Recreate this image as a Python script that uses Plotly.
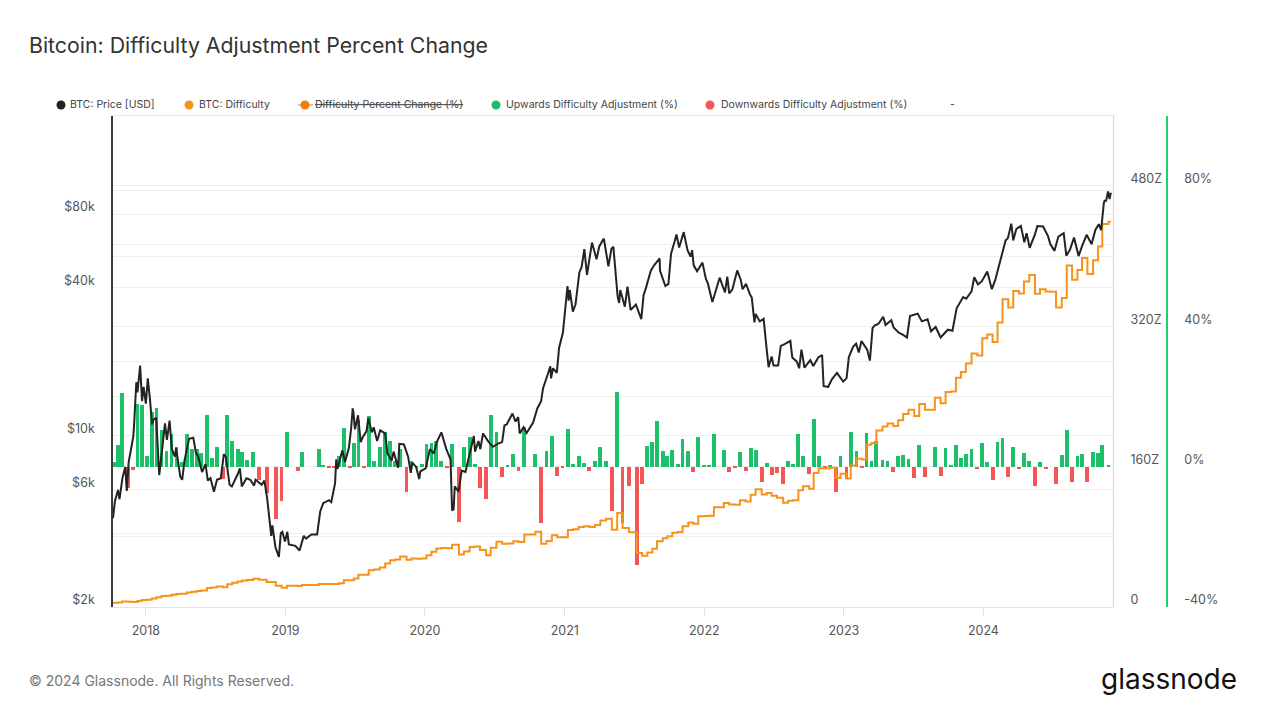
import plotly.graph_objects as go

# ---------------- data ----------------
# Difficulty adjustments: date, percent change, difficulty (Z hashes)
adj_dates_2017 = ["2017-10-11", "2017-10-20", "2017-10-31", "2017-11-16", "2017-11-29", "2017-12-10", "2017-12-21"]
adj_pct_2017 = [1.4, 6.2, 21.0, -6.0, -1.0, 17.9, 17.6]
difficulty_2017 = [4.9, 5.2, 6.3, 5.9, 5.8, 6.9, 8.1]

adj_dates_2018 = ["2018-01-03", "2018-01-16", "2018-01-29", "2018-02-11", "2018-02-24", "2018-03-09", "2018-03-22",
                  "2018-04-04", "2018-04-18", "2018-05-01", "2018-05-14", "2018-05-26", "2018-06-10", "2018-06-22",
                  "2018-07-05", "2018-07-22", "2018-08-02", "2018-08-15", "2018-08-29", "2018-09-10", "2018-09-23",
                  "2018-10-09", "2018-10-24", "2018-11-13", "2018-12-07", "2018-12-22"]
adj_pct_2018 = [3.0, 15.5, 16.6, 10.5, 4.5, 9.2, 5.7, 1.4, 9.2, 4.9, 4.9, 3.8, 14.6, 2.6, 5.5, -3.6, 14.6, 7.3, 4.9,
                4.2, 2.0, 4.2, -3.8, -7.6, -15.0, -9.7]
difficulty_2018 = [8.3, 9.6, 11.2, 12.4, 12.9, 14.1, 14.9, 15.1, 16.5, 17.3, 18.2, 18.9, 21.6, 22.2, 23.4, 22.6, 25.8,
                   27.7, 29.1, 30.3, 30.9, 32.2, 31.0, 28.6, 24.3, 22.0]

adj_dates_2019 = ["2019-01-05", "2019-01-19", "2019-02-02", "2019-02-13", "2019-02-28", "2019-03-14", "2019-03-29",
                  "2019-04-10", "2019-04-25", "2019-05-07", "2019-05-21", "2019-06-03", "2019-06-19", "2019-06-29",
                  "2019-07-11", "2019-07-25", "2019-08-07", "2019-08-21", "2019-09-05", "2019-09-19", "2019-10-02",
                  "2019-10-15", "2019-10-28", "2019-11-14", "2019-11-27", "2019-12-10", "2019-12-24"]
adj_pct_2019 = [10.0, 0.0, -1.1, 4.2, 0.0, 0.0, 4.9, 0.2, -0.5, -0.3, 3.1, 10.9, -0.3, 6.7, 13.3, -0.3, 14.3, 1.6,
                5.7, 10.0, 7.3, 1.6, 4.9, -7.1, 1.6, -0.5, 0.7]
difficulty_2019 = [24.2, 24.2, 23.9, 25.0, 25.0, 25.0, 26.2, 26.3, 26.2, 26.1, 27.0, 30.5, 30.4, 32.5, 36.8, 36.7,
                   42.0, 42.7, 45.1, 49.6, 53.2, 54.1, 57.5, 54.0, 55.3, 55.0, 55.4]

adj_dates_2020 = ["2020-01-05", "2020-01-18", "2020-01-31", "2020-02-13", "2020-02-27", "2020-03-12", "2020-03-30",
                  "2020-04-12", "2020-04-27", "2020-05-10", "2020-05-24", "2020-06-09", "2020-06-21", "2020-07-06",
                  "2020-07-21", "2020-08-04", "2020-08-19", "2020-09-02", "2020-09-17", "2020-10-02", "2020-10-16",
                  "2020-10-31", "2020-11-14", "2020-11-28", "2020-12-12", "2020-12-26"]
adj_pct_2020 = [6.4, 6.7, 7.3, 1.6, -0.3, 6.4, -15.9, 5.7, 8.4, 0.7, -6.0, -9.3, 14.6, 10.0, -3.0, 0.5, 3.6, -1.1,
                11.4, 0.0, 3.6, -16.0, 4.6, 8.6, -2.7, -0.3]
difficulty_2020 = [59.0, 63.0, 66.8, 67.3, 67.1, 71.1, 59.8, 63.2, 68.5, 69.0, 64.9, 58.9, 67.5, 74.3, 72.1, 72.4,
                   75.0, 74.2, 82.7, 82.7, 85.7, 72.0, 75.3, 81.8, 79.6, 79.4]

adj_dates_2021 = ["2021-01-09", "2021-01-23", "2021-02-06", "2021-02-20", "2021-03-06", "2021-03-21", "2021-04-04",
                  "2021-04-19", "2021-05-04", "2021-05-18", "2021-06-01", "2021-06-18", "2021-07-08", "2021-07-22",
                  "2021-08-05", "2021-08-18", "2021-08-30", "2021-09-14", "2021-09-26", "2021-10-09", "2021-10-23",
                  "2021-11-05", "2021-11-20", "2021-12-03", "2021-12-16", "2021-12-31"]
adj_pct_2021 = [10.7, 0.8, 2.9, 1.1, -1.1, 1.7, 5.5, 1.7, -12.6, 21.2, -16.0, -5.4, -27.9, -4.8, 5.9, 7.1, 13.1,
                4.5, 2.9, 4.8, 0.8, 7.8, 4.5, -1.4, 8.5, 0.2]
difficulty_2021 = [87.9, 88.6, 91.2, 92.2, 91.2, 93.5, 98.6, 100.5, 88.0, 107.2, 90.1, 85.2, 61.5, 58.5, 62.0, 66.4,
                   75.1, 78.5, 80.8, 84.7, 85.4, 92.1, 96.2, 94.9, 103.6, 103.8]

adj_dates_2022 = ["2022-01-13", "2022-01-26", "2022-02-08", "2022-02-21", "2022-03-07", "2022-03-22", "2022-04-04",
                  "2022-04-19", "2022-05-02", "2022-05-15", "2022-05-31", "2022-06-13", "2022-06-26", "2022-07-10",
                  "2022-07-26", "2022-08-08", "2022-08-21", "2022-09-04", "2022-09-16", "2022-10-02", "2022-10-14",
                  "2022-10-27", "2022-11-12", "2022-11-25", "2022-12-11", "2022-12-23"]
adj_pct_2022 = [0.2, 9.2, 0.0, 4.8, -1.4, -0.3, 4.3, -1.1, 5.2, 4.8, -4.5, 1.1, -2.4, -1.9, -5.0, 1.7, 0.7, 9.2,
                3.1, -2.1, 13.5, 3.1, -0.3, 0.5, -7.1, 3.1]
difficulty_2022 = [104.0, 113.8, 113.8, 118.6, 117.0, 116.7, 121.7, 120.4, 127.9, 134.2, 128.4, 130.0, 126.9,
                   124.5, 118.9, 121.0, 121.8, 133.1, 137.7, 134.7, 152.9, 158.2, 157.9, 158.7, 147.1, 151.9]

adj_dates_2023 = ["2023-01-08", "2023-01-19", "2023-02-03", "2023-02-18", "2023-03-01", "2023-03-14", "2023-03-27",
                  "2023-04-12", "2023-04-25", "2023-05-10", "2023-05-23", "2023-06-05", "2023-06-19", "2023-07-04",
                  "2023-07-17", "2023-08-01", "2023-08-14", "2023-08-27", "2023-09-11", "2023-09-24", "2023-10-08",
                  "2023-10-21", "2023-11-03", "2023-11-16", "2023-12-01", "2023-12-16", "2023-12-29"]
adj_pct_2023 = [-3.6, 10.0, 4.5, -0.5, 9.7, 1.5, 7.3, 1.9, 1.7, -1.4, 3.1, 3.2, 2.1, -3.3, 6.2, -3.0, 0.0, 5.7,
                -2.7, 5.4, 0.3, 6.2, 2.4, 3.6, 5.1, -0.8, 6.8]
difficulty_2023 = [146.4, 161.4, 169.0, 168.2, 184.9, 187.0, 201.2, 205.7, 209.2, 206.3, 212.8, 220.0, 225.0,
                   217.8, 231.5, 225.0, 225.0, 238.6, 232.3, 245.0, 245.8, 261.5, 268.0, 277.5, 289.0, 286.8, 306.3]

adj_dates_2024 = ["2024-01-11", "2024-01-25", "2024-02-07", "2024-02-20", "2024-03-06", "2024-03-19", "2024-04-03",
                  "2024-04-16", "2024-04-30", "2024-05-15", "2024-05-28", "2024-06-12", "2024-06-25", "2024-07-09",
                  "2024-07-24", "2024-08-06", "2024-08-20", "2024-09-03", "2024-09-15", "2024-09-29", "2024-10-14",
                  "2024-10-27", "2024-11-07", "2024-11-23"]
adj_pct_2024 = [1.4, -3.8, 7.1, 8.1, -3.0, 5.5, -0.8, 3.8, 1.7, -5.5, 1.4, -0.6, 0.0, -4.9, 3.2, 10.5, -4.3, 3.0,
                3.6, -4.5, 4.1, 3.8, 6.2, 0.6]
difficulty_2024 = [310.6, 302.1, 324.3, 351.0, 341.5, 360.3, 357.4, 371.0, 378.4, 357.1, 362.4, 359.6, 359.4,
                   341.5, 352.4, 389.4, 373.1, 384.3, 398.0, 379.7, 395.4, 410.9, 436.6, 439.3]

difficulty_first_date = "2017-10-07"
difficulty_first_value = 4.8
difficulty_last_date = "2024-11-30"

# BTC price (USD)
price_dates = [
    "2017-10-07", "2017-10-12", "2017-10-20", "2017-10-24", "2017-11-01", "2017-11-08", "2017-11-12", "2017-11-17",
    "2017-11-26", "2017-11-29", "2017-12-01", "2017-12-07", "2017-12-10", "2017-12-17", "2017-12-22", "2017-12-26",
    "2018-01-01", "2018-01-06", "2018-01-12", "2018-01-17", "2018-01-21", "2018-01-28", "2018-02-05", "2018-02-10",
    "2018-02-20", "2018-02-25", "2018-03-04", "2018-03-10", "2018-03-18", "2018-03-21", "2018-04-01", "2018-04-06",
    "2018-04-12", "2018-04-24", "2018-05-05", "2018-05-12", "2018-05-18", "2018-05-28", "2018-06-06", "2018-06-12",
    "2018-06-19", "2018-06-28", "2018-07-06", "2018-07-16", "2018-07-24", "2018-07-29", "2018-08-08", "2018-08-14",
    "2018-08-21", "2018-08-30", "2018-09-04", "2018-09-09", "2018-09-21", "2018-10-01", "2018-10-11", "2018-10-15",
    "2018-10-31", "2018-11-07", "2018-11-14", "2018-11-20", "2018-11-25", "2018-11-28", "2018-12-06", "2018-12-15",
    "2018-12-20", "2018-12-24", "2018-12-31",
    "2019-01-06", "2019-01-10", "2019-01-27", "2019-02-07", "2019-02-18", "2019-02-24", "2019-03-10", "2019-03-25",
    "2019-04-02", "2019-04-10", "2019-04-25", "2019-05-01", "2019-05-11", "2019-05-14", "2019-05-17", "2019-05-30",
    "2019-06-06", "2019-06-16", "2019-06-22", "2019-06-26", "2019-06-28", "2019-07-02", "2019-07-10", "2019-07-17",
    "2019-07-23", "2019-08-01", "2019-08-06", "2019-08-15", "2019-08-20", "2019-08-29", "2019-09-06", "2019-09-19",
    "2019-09-25", "2019-10-06", "2019-10-11", "2019-10-23", "2019-10-26", "2019-11-07", "2019-11-18", "2019-11-25",
    "2019-11-29", "2019-12-09", "2019-12-17", "2019-12-20",
    "2020-01-03", "2020-01-14", "2020-01-24", "2020-02-01", "2020-02-13", "2020-02-26", "2020-03-08", "2020-03-12",
    "2020-03-16", "2020-03-19", "2020-03-29", "2020-04-06", "2020-04-16", "2020-04-29", "2020-05-08", "2020-05-11",
    "2020-05-20", "2020-05-25", "2020-06-01", "2020-06-15", "2020-06-27", "2020-07-09", "2020-07-21", "2020-07-27",
    "2020-08-02", "2020-08-17", "2020-08-25", "2020-09-01", "2020-09-05", "2020-09-15", "2020-09-23", "2020-10-10",
    "2020-10-21", "2020-10-31", "2020-11-05", "2020-11-17", "2020-11-24", "2020-11-26", "2020-12-01", "2020-12-11",
    "2020-12-17", "2020-12-27",
    "2021-01-02", "2021-01-08", "2021-01-11", "2021-01-14", "2021-01-22", "2021-01-29", "2021-02-08", "2021-02-14",
    "2021-02-21", "2021-02-28", "2021-03-13", "2021-03-25", "2021-04-01", "2021-04-13", "2021-04-25", "2021-05-03",
    "2021-05-08", "2021-05-12", "2021-05-19", "2021-05-23", "2021-05-26", "2021-06-07", "2021-06-14", "2021-06-22",
    "2021-07-01", "2021-07-06", "2021-07-20", "2021-07-26", "2021-08-01", "2021-08-14", "2021-08-22", "2021-09-06",
    "2021-09-07", "2021-09-21", "2021-09-29", "2021-10-06", "2021-10-15", "2021-10-20", "2021-10-27", "2021-11-08",
    "2021-11-18", "2021-11-26", "2021-11-30", "2021-12-04", "2021-12-13", "2021-12-27",
    "2022-01-05", "2022-01-10", "2022-01-22", "2022-01-28", "2022-02-10", "2022-02-24", "2022-03-02", "2022-03-07",
    "2022-03-15", "2022-03-28", "2022-04-06", "2022-04-11", "2022-04-20", "2022-04-30", "2022-05-05", "2022-05-12",
    "2022-05-15", "2022-05-26", "2022-06-05", "2022-06-13", "2022-06-18", "2022-06-26", "2022-07-01", "2022-07-13",
    "2022-07-20", "2022-07-30", "2022-08-14", "2022-08-19", "2022-08-31", "2022-09-06", "2022-09-12", "2022-09-20",
    "2022-10-05", "2022-10-13", "2022-10-26", "2022-11-05", "2022-11-09", "2022-11-21", "2022-12-01", "2022-12-14",
    "2022-12-30",
    "2023-01-08", "2023-01-14", "2023-01-25", "2023-02-02", "2023-02-09", "2023-02-16", "2023-03-03", "2023-03-10",
    "2023-03-17", "2023-03-22", "2023-04-01", "2023-04-14", "2023-04-20", "2023-05-05", "2023-05-11", "2023-05-24",
    "2023-06-05", "2023-06-15", "2023-06-23", "2023-07-13", "2023-07-24", "2023-08-08", "2023-08-17", "2023-08-29",
    "2023-09-11", "2023-09-30", "2023-10-12", "2023-10-23", "2023-11-09", "2023-11-17", "2023-12-01", "2023-12-08",
    "2023-12-18", "2023-12-28",
    "2024-01-11", "2024-01-23", "2024-02-01", "2024-02-14", "2024-02-28", "2024-03-05", "2024-03-14", "2024-03-19",
    "2024-03-27", "2024-04-08", "2024-04-17", "2024-04-23", "2024-05-01", "2024-05-15", "2024-05-21", "2024-06-05",
    "2024-06-18", "2024-06-24", "2024-07-05", "2024-07-15", "2024-07-29", "2024-08-05", "2024-08-15", "2024-08-25",
    "2024-09-06", "2024-09-15", "2024-09-27", "2024-10-10", "2024-10-20", "2024-10-29", "2024-11-04", "2024-11-11",
    "2024-11-13", "2024-11-17", "2024-11-22", "2024-11-26", "2024-11-29", "2024-11-30",
]
price_usd = [
    4600, 5400, 6000, 5500, 6750, 7450, 5950, 7800, 9300, 9900, 10900, 16500, 15000, 19300, 13800, 15800,
    13500, 17100, 13900, 11100, 11600, 11800, 6900, 8100, 11200, 9600, 11500, 8800, 8200, 8900, 6800, 6600,
    7900, 9700, 9800, 8500, 8200, 7100, 7650, 6550, 6700, 5900, 6600, 6700, 8400, 8200, 6300, 6200,
    6500, 7000, 7350, 6200, 6700, 6600, 6250, 6600, 6300, 6550, 5600, 4500, 3900, 4300, 3500, 3200,
    4000, 4050, 3700,
    4050, 3600, 3550, 3400, 3900, 3800, 3950, 3950, 4900, 5300, 5450, 5350, 6400, 8000, 7300, 8700,
    7800, 8900, 10700, 12900, 12400, 10600, 12100, 9400, 9900, 10400, 11800, 10300, 10800, 9500, 10500, 10200,
    8450, 7900, 8600, 7400, 9250, 9200, 8200, 7050, 7750, 7450, 6650, 7150,
    7350, 8800, 8450, 9400, 10300, 8800, 8000, 4950, 5000, 6200, 5900, 7200, 7100, 8800, 9950, 8600,
    9500, 8800, 10200, 9450, 9000, 9250, 9400, 11000, 11100, 12300, 11400, 11900, 10200, 10800, 10250, 11300,
    12900, 13800, 15600, 17700, 19150, 17100, 18800, 18000, 22800, 26300,
    32200, 40700, 35500, 39200, 32000, 34300, 46200, 48700, 57500, 45200, 61200, 52300, 59000, 63500, 49000, 57800,
    58800, 49200, 37000, 34700, 39200, 33500, 40500, 32500, 33500, 34200, 29800, 37300, 39900, 47000, 49300, 52700,
    46900, 40700, 41500, 55300, 61600, 66000, 58400, 67500, 56900, 53600, 57000, 49400, 46700, 50700,
    43500, 41800, 35000, 37700, 44000, 38300, 44400, 38000, 39300, 47100, 43200, 39500, 41500, 37700, 36500, 28900,
    31300, 29200, 29900, 22500, 19000, 21000, 19300, 19300, 23200, 23600, 24300, 20800, 20000, 18800, 22400, 18900,
    20300, 19200, 20800, 21300, 15900, 15800, 17000, 18000, 16600,
    17100, 20900, 23000, 23700, 21800, 24300, 22400, 20200, 27400, 28100, 28500, 30500, 28200, 29500, 27600, 26300,
    25700, 25100, 30700, 31400, 29200, 29800, 26600, 27700, 25100, 27000, 26750, 33000, 36700, 36100, 38700, 44200,
    41300, 42600,
    46600, 39500, 43100, 51800, 62400, 63800, 73100, 62400, 69500, 71600, 61300, 66800, 58200, 66200, 71400, 71100,
    65000, 60300, 56600, 64700, 66800, 54000, 57500, 64200, 53900, 59200, 65800, 60300, 69000, 72700, 68800, 88700,
    90500, 90500, 98900, 92000, 97400, 96400,
]

# axis ticks
price_tick_vals = [2000, 4000, 6000, 10000, 20000, 40000, 60000, 80000, 100000]
price_tick_text = ["$2k", "", "$6k", "$10k", "", "$40k", "", "$80k", ""]
difficulty_tick_vals = [0, 80, 160, 240, 320, 400, 480]
difficulty_tick_text = ["0", "", "160Z", "", "320Z", "", "480Z"]
pct_tick_vals = [-40, 0, 40, 80]
pct_tick_text = ["-40%", "0%", "40%", "80%"]

legend_labels = ["BTC: Price [USD]", "BTC: Difficulty", "Difficulty Percent Change (%)",
                 "Upwards Difficulty Adjustment (%)", "Downwards Difficulty Adjustment (%)", "-"]

# ---------------- assemble ----------------
adj_dates = (adj_dates_2017 + adj_dates_2018 + adj_dates_2019 + adj_dates_2020 + adj_dates_2021 +
             adj_dates_2022 + adj_dates_2023 + adj_dates_2024)
adj_pct = (adj_pct_2017 + adj_pct_2018 + adj_pct_2019 + adj_pct_2020 + adj_pct_2021 +
           adj_pct_2022 + adj_pct_2023 + adj_pct_2024)
difficulty = (difficulty_2017 + difficulty_2018 + difficulty_2019 + difficulty_2020 + difficulty_2021 +
              difficulty_2022 + difficulty_2023 + difficulty_2024)

up_vals = [v if v > 0 else None for v in adj_pct]
down_vals = [v if v < 0 else None for v in adj_pct]
diff_x = [difficulty_first_date] + adj_dates + [difficulty_last_date]
diff_y = [difficulty_first_value] + difficulty + [difficulty[-1]]

# ---------------- styling ----------------
FONT = "Inter, Roboto, Open Sans, sans-serif"
BLACK = "#232323"
ORANGE = "#f7931a"
ORANGE_DARK = "#ef7f12"
GREEN = "#1cc06a"
RED = "#f65555"
GRID = "#efefef"
LABEL = "#555555"
DAY_MS = 86400000

# page geometry (the browser adds an 8px body margin around the figure)
PAGE_OFF = 8
W, H = 1265 - PAGE_OFF, 712 - PAGE_OFF
PL, PT, PB = 113, 116, 607   # plot left / top / bottom, page px
PAPER_W = 1054               # paper spans page px 113 .. 1167
PLOT_W = 1000


def px_x(px):
    return (px - PL) / PAPER_W


def px_y(py):
    return 1 - (py - PT) / (PB - PT)


fig = go.Figure()
fig.add_trace(go.Bar(x=adj_dates, y=up_vals, marker=dict(color=GREEN, line=dict(width=0)),
                     width=10 * DAY_MS, yaxis="y", name=legend_labels[3], showlegend=False,
                     hoverinfo="skip"))
fig.add_trace(go.Bar(x=adj_dates, y=down_vals, marker=dict(color=RED, line=dict(width=0)),
                     width=10 * DAY_MS, yaxis="y", name=legend_labels[4], showlegend=False,
                     hoverinfo="skip"))
fig.add_trace(go.Scatter(x=diff_x, y=diff_y, mode="lines", yaxis="y2", name=legend_labels[1],
                         line=dict(color=ORANGE, width=2, shape="hv"), showlegend=False,
                         hoverinfo="skip"))
fig.add_trace(go.Scatter(x=price_dates, y=price_usd, mode="lines", yaxis="y3", name=legend_labels[0],
                         line=dict(color=BLACK, width=2), showlegend=False, hoverinfo="skip"))

tickfont = dict(family=FONT, size=12.5, color=LABEL)

fig.update_layout(
    width=W, height=H,
    margin=dict(l=PL - PAGE_OFF, r=W - (PL - PAGE_OFF) - PAPER_W, t=PT - PAGE_OFF, b=H - (PB - PAGE_OFF)),
    paper_bgcolor="white", plot_bgcolor="white",
    barmode="overlay", bargap=0,
    showlegend=False,
    font=dict(family=FONT, color=LABEL),
    xaxis=dict(
        domain=[0, PLOT_W / PAPER_W], type="date",
        range=["2017-10-07", "2024-12-05"],
        tick0="2018-01-01", dtick="M12", tickformat="%Y",
        ticks="outside", ticklen=8, tickcolor="#e4e4e4", tickwidth=1,
        showgrid=False, zeroline=False,
        showline=True, mirror=True, linecolor="#e4e4e4", linewidth=1,
        tickfont=tickfont, ticklabelstandoff=4,
    ),
    yaxis=dict(
        anchor="free", position=1.0, side="right",
        range=[-40, 99.95], tickvals=pct_tick_vals, ticktext=pct_tick_text,
        showgrid=False, zeroline=False,
        showline=True, linecolor="#1fcf6f", linewidth=1.5,
        ticks="", tickfont=tickfont, ticklabelshift=-7, ticklabelstandoff=14,
    ),
    yaxis2=dict(
        overlaying="y", side="right", anchor="x",
        range=[0, 559.8], tickvals=difficulty_tick_vals, ticktext=difficulty_tick_text,
        showgrid=True, gridcolor=GRID, gridwidth=1, zeroline=False,
        showline=True, linecolor="#ffcf91", linewidth=1,
        ticks="", tickfont=tickfont, ticklabelshift=-7, ticklabelstandoff=14,
    ),
    yaxis3=dict(
        overlaying="y", side="left", anchor="x", type="log",
        range=[3.30103, 5.30258], tickvals=price_tick_vals, ticktext=price_tick_text,
        showgrid=True, gridcolor=GRID, gridwidth=1, zeroline=False,
        showline=True, linecolor="#3a3a3a", linewidth=1.5,
        ticks="", tickfont=tickfont, ticklabelshift=-7, ticklabelstandoff=14,
    ),
)

annotations = []
shapes = []

# title
annotations.append(dict(text="Bitcoin: Difficulty Adjustment Percent Change", xref="paper", yref="paper",
                        x=px_x(27), y=px_y(45), xanchor="left", yanchor="middle", showarrow=False,
                        font=dict(family=FONT, size=21.3, color="#333333")))
# footer
annotations.append(dict(text="© 2024 Glassnode. All Rights Reserved.", xref="paper", yref="paper",
                        x=px_x(27), y=px_y(680), xanchor="left", yanchor="middle", showarrow=False,
                        font=dict(family=FONT, size=14, color="#777777")))
annotations.append(dict(text="glassnode", xref="paper", yref="paper",
                        x=px_x(1239), y=px_y(679), xanchor="right", yanchor="middle", showarrow=False,
                        font=dict(family=FONT, size=28, color="#111111")))

# custom legend
legend_y = px_y(105)
legend_items = [
    (61, 68, BLACK, legend_labels[0], False),
    (189, 197, ORANGE, legend_labels[1], False),
    (305, 313, ORANGE_DARK, legend_labels[2], True),
    (496, 504, GREEN, legend_labels[3], False),
    (710, 719, RED, legend_labels[4], False),
]
for dot_px, text_px, color, label, struck in legend_items:
    shapes.append(dict(type="circle", xref="paper", yref="paper", xsizemode="pixel", ysizemode="pixel",
                       xanchor=px_x(dot_px), yanchor=legend_y, x0=-4.5, x1=4.5, y0=-4.5, y1=4.5,
                       fillcolor=color, line=dict(width=0)))
    if struck:
        shapes.append(dict(type="line", xref="paper", yref="paper",
                           x0=px_x(dot_px - 7), x1=px_x(text_px), y0=legend_y, y1=legend_y,
                           line=dict(color=ORANGE_DARK, width=1)))
    annotations.append(dict(text=("<s>" + label + "</s>") if struck else label,
                            xref="paper", yref="paper", x=px_x(text_px), y=legend_y,
                            xanchor="left", yanchor="middle", showarrow=False,
                            font=dict(family=FONT, size=10.5, color="#444444")))
annotations.append(dict(text=legend_labels[5], xref="paper", yref="paper", x=px_x(948), y=legend_y,
                        xanchor="left", yanchor="middle", showarrow=False,
                        font=dict(family=FONT, size=10.5, color="#444444")))

fig.update_layout(annotations=annotations, shapes=shapes)

fig.write_html("out.html", config={"displayModeBar": False})
